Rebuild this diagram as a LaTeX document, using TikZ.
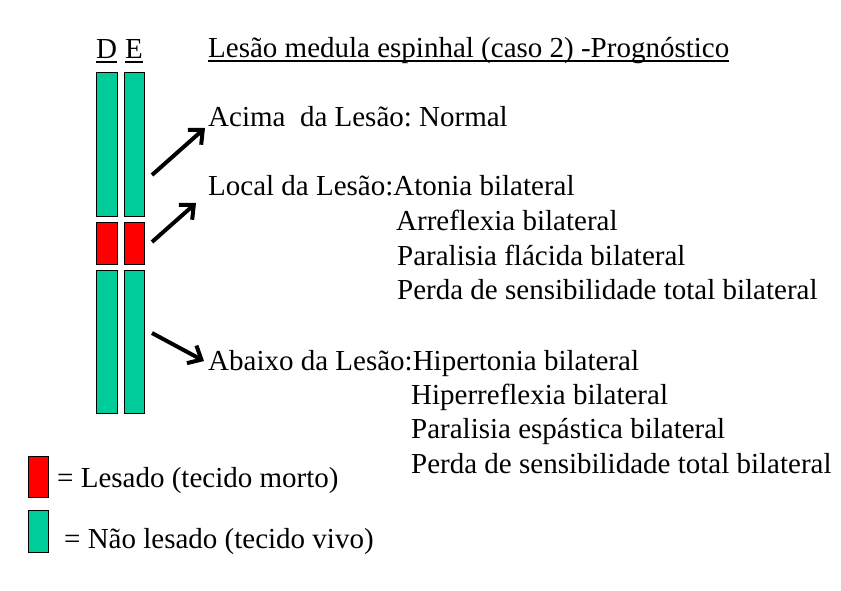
\documentclass[tikz,border=0pt]{standalone}
\usepackage{fontspec}
\setmainfont{Liberation Serif}
\usetikzlibrary{arrows.meta}
\definecolor{tgreen}{HTML}{00CC99}
\definecolor{tred}{HTML}{FF0000}
\frenchspacing
\begin{document}
\begin{tikzpicture}[x=1pt,y=-1pt,
  bar/.style={draw=black,line width=1.2pt,inner sep=0pt,anchor=north west},
  txt/.style={anchor=base west,inner sep=0pt,font=\fontsize{29}{35}\selectfont},
  arr/.style={line width=4pt,-{Straight Barb[length=11pt,width=20pt,line width=4pt]}},
  uline/.style={line width=1.4pt}]
\useasboundingbox (0,0) rectangle (841,590);
% bars
\node[bar,fill=tgreen,minimum width=21pt,minimum height=144pt] (dtop) at (96,72) {};
\node[bar,fill=tgreen,minimum width=20pt,minimum height=144pt] (etop) at (124,72) {};
\node[bar,fill=tred,minimum width=21pt,minimum height=42pt] (dmid) at (96,222) {};
\node[bar,fill=tred,minimum width=20pt,minimum height=42pt] (emid) at (124,222) {};
\node[bar,fill=tgreen,minimum width=21pt,minimum height=143pt] (dbot) at (96,270) {};
\node[bar,fill=tgreen,minimum width=20pt,minimum height=143pt] (ebot) at (124,270) {};
% D E labels
\node[txt,anchor=base] (lD) at (106.5,58) {D};
\node[txt,anchor=base] (lE) at (134,58) {E};
\draw[uline] ([yshift=-4pt]lD.base west) -- ([yshift=-4pt]lD.base east);
\draw[uline] ([yshift=-4pt]lE.base west) -- ([yshift=-4pt]lE.base east);
% title
\node[txt] (title) at (208,57) {Lesão medula espinhal (caso 2) -Prognóstico};
\draw[uline] ([yshift=-4pt]title.base west) -- ([yshift=-4pt]title.base east);
% texts
\node[txt] (acima) at (208,126) {Acima\ \ da Lesão: Normal};
\node[txt] (local) at (208,195) {Local da Lesão:Atonia bilateral};
\node[txt] (l2) at (396,230) {Arreflexia bilateral};
\node[txt] (l3) at (397,265) {Paralisia flácida bilateral};
\node[txt] (l4) at (397,299) {Perda de sensibilidade total bilateral};
\node[txt] (abaixo) at (208,370) {Abaixo da Lesão:Hipertonia bilateral};
\node[txt] (a2) at (411,404) {Hiperreflexia bilateral};
\node[txt] (a3) at (411,438) {Paralisia espástica bilateral};
\node[txt] (a4) at (411,473) {Perda de sensibilidade total bilateral};
% arrows
\coordinate (s1) at (152,175);
\coordinate (t1) at (205,128);
\coordinate (s2) at (152,242);
\coordinate (t2) at (196,203);
\coordinate (s3) at (152,333);
\coordinate (t3) at (204,361);
\draw[arr] (s1) -- (t1);
\draw[arr] (s2) -- (t2);
\draw[arr] (s3) -- (t3);
% legend
\node[bar,fill=tred,minimum width=20pt,minimum height=41pt] (legR) at (28,456) {};
\node[bar,fill=tgreen,minimum width=20pt,minimum height=42pt] (legG) at (28,510) {};
\node[txt] (legRt) at (57,487) {= Lesado (tecido morto)};
\node[txt] (legGt) at (64,548) {= Não lesado (tecido vivo)};
\end{tikzpicture}
\end{document}
